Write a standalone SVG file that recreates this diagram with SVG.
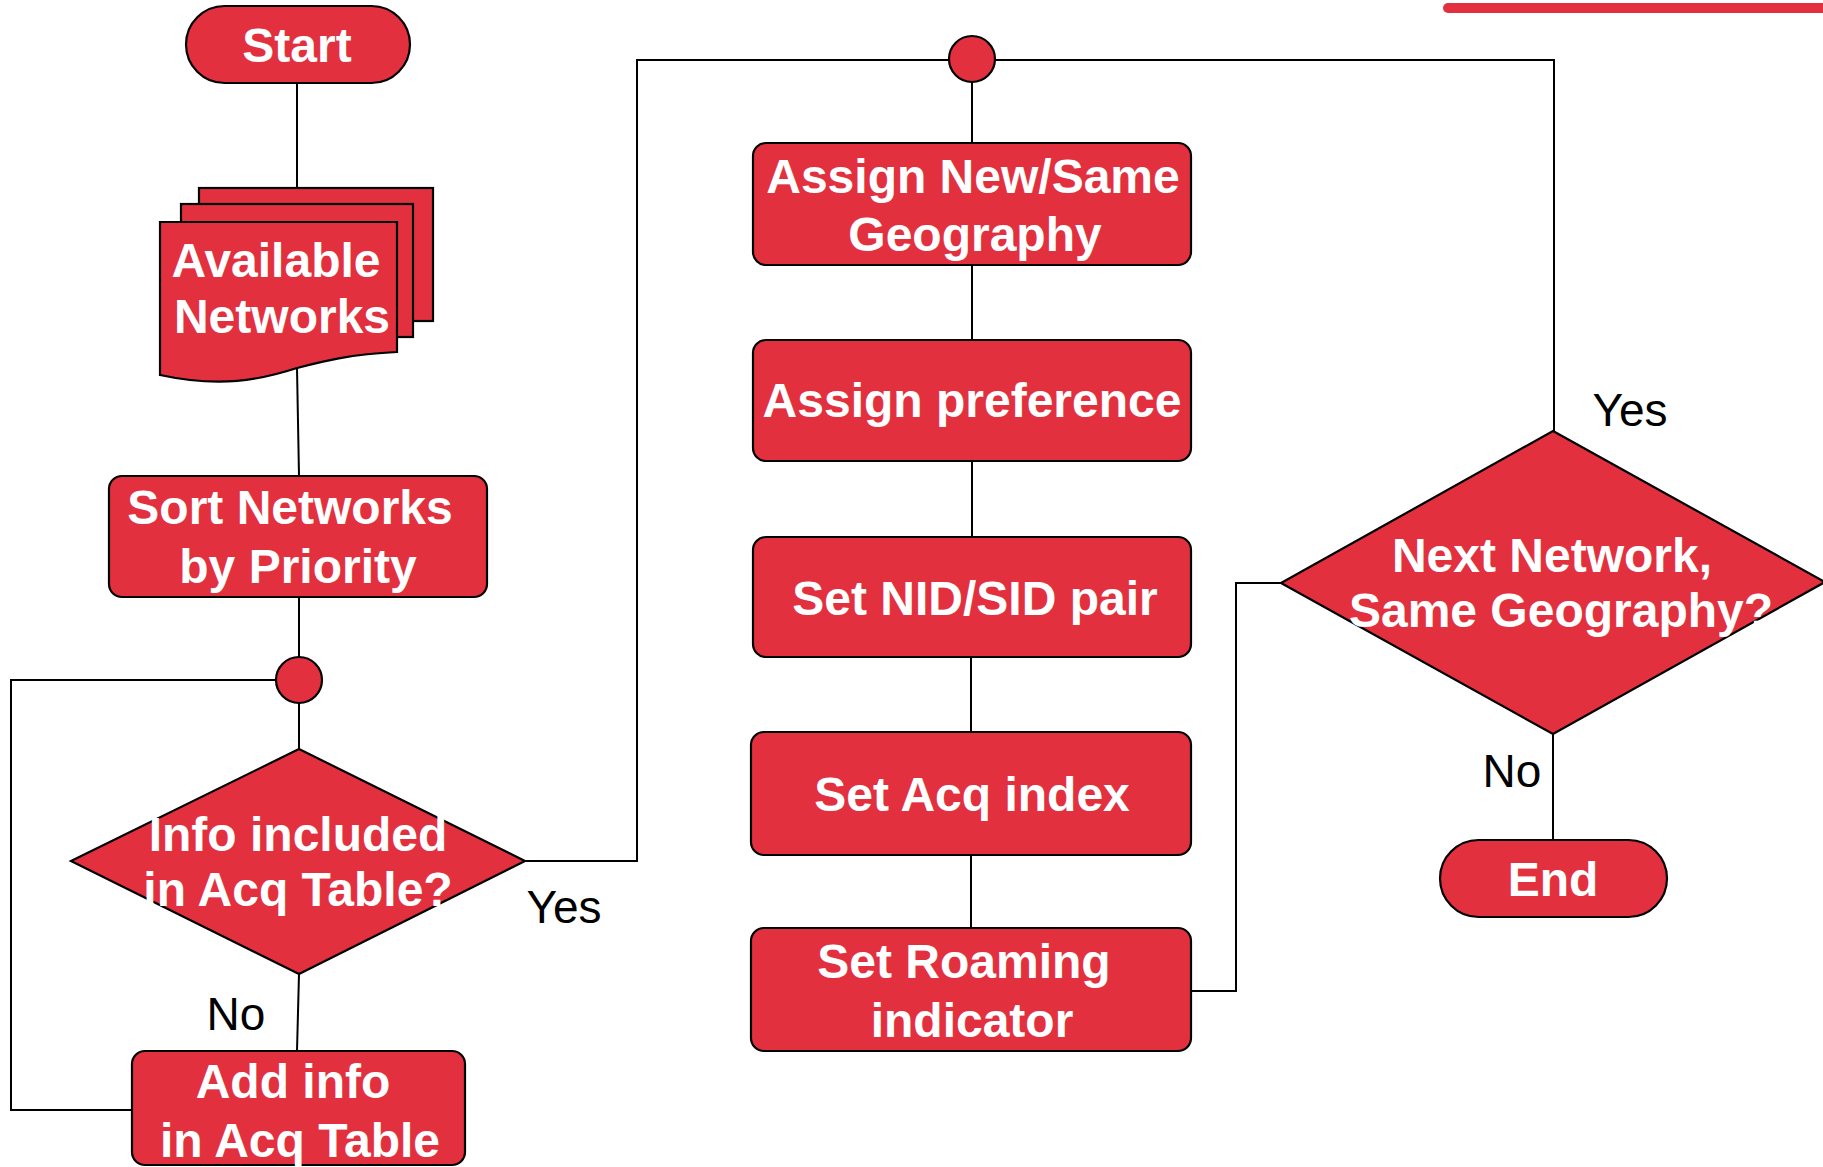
<svg xmlns="http://www.w3.org/2000/svg" width="1823" height="1167" viewBox="0 0 1823 1167">
<style>
.n{fill:#E3303F;stroke:#000;stroke-width:2.2}
.t{fill:#fff;font-family:"Liberation Sans",Arial,sans-serif;font-weight:bold;font-size:48px;text-anchor:middle}
.l{fill:#000;font-family:"Liberation Sans",Arial,sans-serif;font-size:46px;text-anchor:middle}
.c{fill:none;stroke:#000;stroke-width:2}
</style>
<rect width="1823" height="1167" fill="#fff"/>
<path d="M1448,3 H1823 V13 H1448 A5,5 0 0 1 1448,3 Z" fill="#E3303F"/>
<g id="connectors">
<path class="c" d="M297,83 V188"/>
<path class="c" d="M297,368 L299,476"/>
<path class="c" d="M299,597 V657"/>
<path class="c" d="M299,703 V749"/>
<path class="c" d="M299,974 L297,1051"/>
<path class="c" d="M132,1110 H11 V680 H276"/>
<path class="c" d="M525,861 H637 V60 H1554 V431"/>
<path class="c" d="M972,82 V143"/>
<path class="c" d="M972,265 V340"/>
<path class="c" d="M972,461 V537"/>
<path class="c" d="M971,657 V732"/>
<path class="c" d="M971,855 V928"/>
<path class="c" d="M1191,991 H1236 V583 H1281"/>
<path class="c" d="M1553,734 V840"/>
<text class="l" x="564" y="923">Yes</text>
<text class="l" x="236" y="1030">No</text>
<text class="l" x="1630" y="426">Yes</text>
<text class="l" x="1512" y="787">No</text>
</g>
<g id="start">
<rect class="n" x="186" y="6" width="224" height="77" rx="38.5"/>
<text class="t" x="297" y="62">Start</text>
</g>
<g id="available-networks">
<rect class="n" x="199" y="188" width="234" height="133"/>
<rect class="n" x="181" y="204" width="232" height="133"/>
<path class="n" d="M160,222 H397 V352 C350,354 320,362 297,368 C260,380 220,388 160,375 Z"/>
<text class="t" x="276" y="277">Available</text>
<text class="t" x="282" y="333">Networks</text>
</g>
<g id="sort">
<rect class="n" x="109" y="476" width="378" height="121" rx="13"/>
<text class="t" x="290" y="524">Sort Networks</text>
<text class="t" x="298" y="583">by Priority</text>
</g>
<g id="junction1">
<circle class="n" cx="299" cy="680" r="23"/>
</g>
<g id="decision1">
<polygon class="n" points="299,749 525,861 299,974 71,861"/>
<text class="t" x="298" y="851">Info included</text>
<text class="t" x="298" y="906">in Acq Table?</text>
</g>
<g id="add-info">
<rect class="n" x="132" y="1051" width="333" height="114" rx="13"/>
<text class="t" x="293" y="1098">Add info</text>
<text class="t" x="300" y="1157">in Acq Table</text>
</g>
<g id="junction2">
<circle class="n" cx="972" cy="59" r="23"/>
</g>
<g id="assign-geo">
<rect class="n" x="753" y="143" width="438" height="122" rx="13"/>
<text class="t" x="973" y="193">Assign New/Same</text>
<text class="t" x="975" y="251">Geography</text>
</g>
<g id="assign-pref">
<rect class="n" x="753" y="340" width="438" height="121" rx="13"/>
<text class="t" x="972" y="417">Assign preference</text>
</g>
<g id="set-nid">
<rect class="n" x="753" y="537" width="438" height="120" rx="13"/>
<text class="t" x="975" y="615">Set NID/SID pair</text>
</g>
<g id="set-acq">
<rect class="n" x="751" y="732" width="440" height="123" rx="13"/>
<text class="t" x="972" y="811">Set Acq index</text>
</g>
<g id="set-roaming">
<rect class="n" x="751" y="928" width="440" height="123" rx="13"/>
<text class="t" x="964" y="978">Set Roaming</text>
<text class="t" x="972" y="1037">indicator</text>
</g>
<g id="decision2">
<polygon class="n" points="1553,431 1825,582 1553,734 1281,583"/>
<text class="t" x="1552" y="572">Next Network,</text>
<text class="t" x="1561" y="627">Same Geography?</text>
</g>
<g id="end">
<rect class="n" x="1440" y="840" width="227" height="77" rx="38.5"/>
<text class="t" x="1553" y="896">End</text>
</g>
</svg>
